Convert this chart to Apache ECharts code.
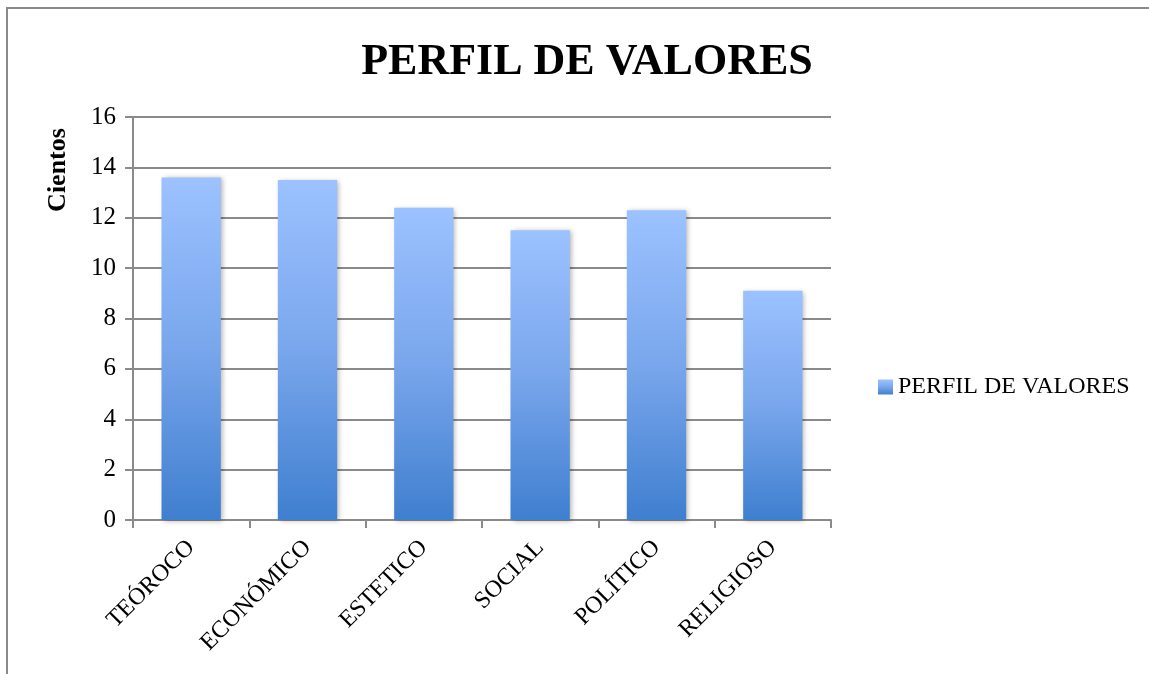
<!DOCTYPE html>
<html>
<head>
<meta charset="utf-8">
<script src="https://cdn.jsdelivr.net/npm/echarts@6/dist/echarts.min.js"></script>
<style>
  html, body { margin: 0; padding: 0; background: #fff; }
  #chart { width: 1149px; height: 674px; }
</style>
</head>
<body>
<div id="chart"></div>
<script>
// datos del grafico
const categorias = ['TEÓROCO', 'ECONÓMICO', 'ESTETICO', 'SOCIAL', 'POLÍTICO', 'RELIGIOSO'];
const valores = [13.6, 13.5, 12.4, 11.5, 12.3, 9.1];
const nombreSerie = 'PERFIL DE VALORES';
const ejeY = { min: 0, max: 16, interval: 2 };

const fuente = '"Liberation Serif", "DejaVu Serif", serif';
const gris = '#8a8a8a';

const chart = echarts.init(document.getElementById('chart'));

const option = {
    animation: false,
    backgroundColor: '#fff',
    textStyle: { fontFamily: fuente, color: '#000' },
    title: {
        text: 'PERFIL DE VALORES',
        left: 582,
        top: 36,
        textAlign: 'center',
        textStyle: { fontFamily: fuente, fontSize: 44, fontWeight: 'bold', color: '#000' },
    },
    legend: {
        left: 873,
        top: 370,
        itemWidth: 15,
        itemHeight: 15,
        itemGap: 6,
        icon: 'rect',
        textStyle: { fontFamily: fuente, fontSize: 24, color: '#000' },
        data: [nombreSerie],
    },
    grid: { left: 133, right: 318, top: 117, bottom: 154 },
    xAxis: {
        type: 'category',
        data: categorias,
        axisLine: { lineStyle: { color: gris, width: 2 } },
        axisTick: { show: true, length: 8, lineStyle: { color: gris, width: 2 } },
        axisLabel: {
            interval: 0,
            rotate: 45,
            margin: 24,
            fontFamily: fuente,
            fontSize: 24,
            color: '#000',
        },
    },
    yAxis: {
        type: 'value',
        min: ejeY.min,
        max: ejeY.max,
        interval: ejeY.interval,
        axisLine: { show: true, lineStyle: { color: gris, width: 2 } },
        axisTick: { show: true, length: 8, lineStyle: { color: gris, width: 2 } },
        splitLine: { lineStyle: { color: gris, width: 2 } },
        axisLabel: { margin: 17, fontFamily: fuente, fontSize: 25, color: '#000' },
    },
    graphic: [
        {
            type: 'rect',
            shape: { x: 7, y: 8, width: 1300, height: 800 },
            style: { fill: 'none', stroke: gris, lineWidth: 2 },
            silent: true,
            z: -1,
        },
        {
            type: 'text',
            x: 58,
            y: 170,
            rotation: Math.PI / 2,
            style: {
                text: 'Cientos',
                font: 'bold 26px ' + fuente,
                fill: '#000',
                align: 'center',
                verticalAlign: 'middle',
            },
        },
    ],
    series: [{
        name: nombreSerie,
        type: 'bar',
        data: valores,
        barWidth: '51%',
        itemStyle: {
            color: new echarts.graphic.LinearGradient(0, 0, 0, 1, [
                { offset: 0, color: '#9cc2ff' },
                { offset: 0.5, color: '#79a6ec' },
                { offset: 1, color: '#3f7fcf' },
            ]),
            shadowBlur: 5,
            shadowOffsetX: 2,
            shadowOffsetY: 1,
            shadowColor: 'rgba(0, 0, 0, 0.3)',
        },
    }],
};

chart.setOption(option);
</script>
</body>
</html>
